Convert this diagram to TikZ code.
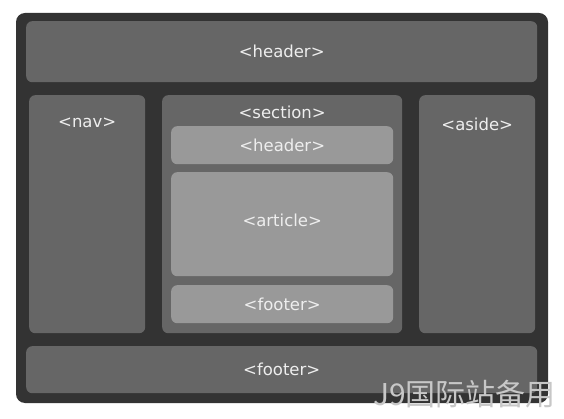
\documentclass[tikz,border=0pt]{standalone}
\usepackage{fontspec}
\setmainfont{DejaVu Sans}
\newfontfamily\cjk{Noto Sans CJK SC}
\usetikzlibrary{calc,positioning}
\definecolor{frame}{HTML}{333333}
\definecolor{block}{HTML}{666666}
\definecolor{inner}{HTML}{999999}
\definecolor{txt}{HTML}{EEEEEE}

\begin{document}
\begin{tikzpicture}[x=1pt,y=-1pt]
    \tikzset{box/.style={fill=block, rounded corners=6pt, inner sep=0pt, anchor=north west},
      subbox/.style={box, fill=inner},
      tag/.style={text=txt, font=\fontsize{16.5}{18}\selectfont, inner sep=0pt}}
    \useasboundingbox[fill=white] (0,0) rectangle (564,419);
    \fill[frame, rounded corners=9pt] (16,13) rectangle (548,403);

    \node[box, minimum width=511pt, minimum height=61pt] (header) at (26,21) {};
    \node[tag] at (header.center) {<header>};

    \node[box, minimum width=116pt, minimum height=238pt] (nav) at (29,95) {};
    \node[tag] at ($(nav.north) + (0,28)$) {<nav>};

    \node[box, minimum width=240pt, minimum height=238pt] (section) at (162,95) {};
    \node[tag] at ($(section.north) + (0,17)$) {<section>};

    \node[subbox, minimum width=222pt, minimum height=38pt] (secheader) at (171,126) {};
    \node[tag] at (secheader.center) {<header>};
    \node[subbox, minimum width=222pt, minimum height=104pt] (article) at (171,172) {};
    \node[tag] at ($(article.center) + (0,-4)$) {<article>};
    \node[subbox, minimum width=222pt, minimum height=38pt] (secfooter) at (171,285) {};
    \node[tag] at (secfooter.center) {<footer>};

    \node[box, minimum width=116pt, minimum height=238pt] (aside) at (419,95) {};
    \node[tag] at ($(aside.north) + (0,29)$) {<aside>};

    \node[box, minimum width=511pt, minimum height=47pt] (footer) at (26,346) {};
    \node[tag] at (footer.center) {<footer>};

    % watermark
    \node[text=black!22, font=\cjk\fontsize{30}{32}\selectfont, inner sep=0pt, anchor=east] (mark) at (556,394) {J9国际站备用};
\end{tikzpicture}
\end{document}
